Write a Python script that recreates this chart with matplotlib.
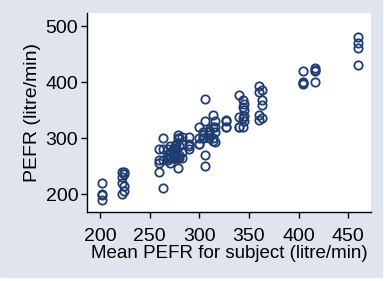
import matplotlib
matplotlib.use("Agg")
import matplotlib.pyplot as plt
from matplotlib.patches import Rectangle

# mean PEFR of each subject (x) and that subject's four readings (y)
subject_mean = [202, 222, 224, 259, 263, 268, 270, 273, 275, 276, 279, 280,
                283, 290, 300, 304, 306, 310, 314, 316, 327, 340, 344, 345,
                360, 363, 404, 416, 460]
pefr = [
    [220, 200, 198, 190],
    [240, 230, 220, 200],
    [240, 235, 215, 206],
    [280, 260, 240, 255],
    [300, 280, 260, 210],
    [280, 270, 265, 260],
    [285, 275, 265, 255],
    [280, 275, 270, 265],
    [285, 280, 270, 265],
    [290, 280, 270, 265],
    [305, 300, 264, 246],
    [300, 285, 270, 265],
    [302, 290, 275, 265],
    [302, 290, 285, 280],
    [320, 300, 290, 290],
    [310, 305, 300, 300],
    [370, 331, 270, 250],
    [315, 310, 305, 300],
    [341, 320, 300, 295],
    [330, 320, 311, 293],
    [332, 330, 320, 320],
    [377, 338, 320, 320],
    [368, 356, 335, 320],
    [360, 350, 340, 330],
    [392, 383, 341, 332],
    [386, 368, 359, 335],
    [420, 400, 398, 397],
    [425, 422, 420, 400],
    [480, 470, 460, 430],
]
x_ticks = [200, 250, 300, 350, 400, 450]
y_ticks = [200, 300, 400, 500]

xs = []
ys = []
for m, vals in zip(subject_mean, pefr):
    xs += [m] * len(vals)
    ys += vals

plt.rcParams["font.family"] = ["Liberation Sans", "DejaVu Sans"]

fig = plt.figure(figsize=(3.84, 2.81), dpi=100, facecolor="white")
# light bluish graph region, leaving a thin white strip right and bottom
fig.patches.append(Rectangle((0, 4 / 281), 382 / 384, 1 - 4 / 281,
                             transform=fig.transFigure, color="#dfe4ef", zorder=-10))

ax = fig.add_axes([87.3 / 384, 1 - 211.7 / 281, (370.7 - 87.3) / 384, (211.7 - 13.3) / 281])
ax.set_facecolor("white")
ax.plot(xs, ys, linestyle="none", marker="o", markersize=6,
        markerfacecolor="none", markeredgecolor="#1f3d72", markeredgewidth=1.3)

ax.set_xlim(187.2, 472.5)
ax.set_ylim(168.4, 522.7)
ax.set_xticks(x_ticks)
ax.set_yticks(y_ticks)
ax.spines["top"].set_visible(False)
ax.spines["right"].set_visible(False)
ax.spines["left"].set_linewidth(1.0)
ax.spines["bottom"].set_linewidth(1.0)
ax.tick_params(axis="x", length=4.5, width=1, pad=7.5, labelsize=14)
ax.tick_params(axis="y", length=4.5, width=1, pad=2, labelsize=14)

ax.set_xlabel("Mean PEFR for subject (litre/min)", fontsize=13.5, labelpad=0)
ax.set_ylabel("PEFR (litre/min)", fontsize=14, labelpad=3)

fig.savefig("out.png", dpi=100, facecolor=fig.get_facecolor())
